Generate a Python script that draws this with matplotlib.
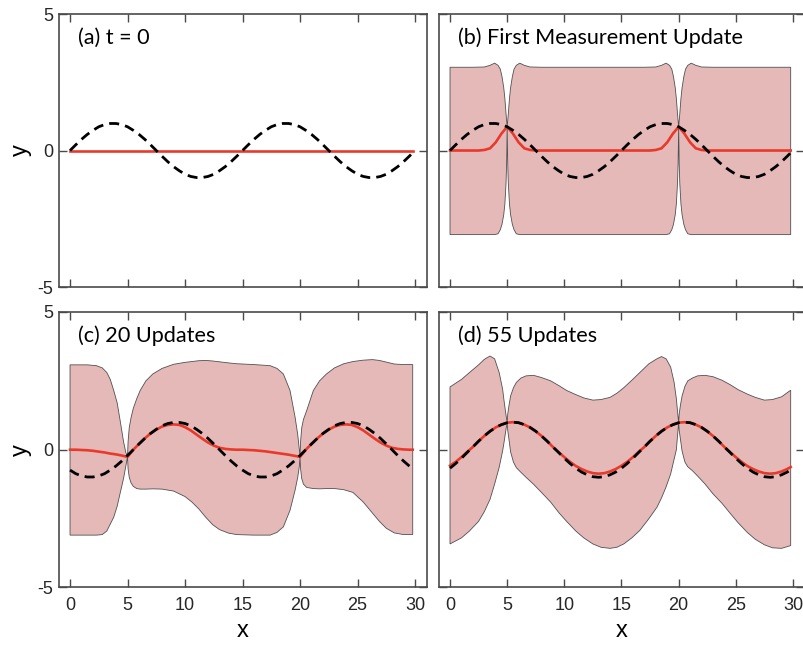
import numpy as np
import matplotlib.pyplot as plt

# sample positions shared by the truth and mean curves
X_GRID = np.append(np.arange(0, 29.6, 0.5), 29.8)

# true signal (dashed) for each panel
TRUTH_AB = [0.00, 0.21, 0.41, 0.59, 0.74, 0.87, 0.95, 0.99, 0.99, 0.95,
            0.87, 0.74, 0.59, 0.41, 0.21, 0.00, -0.21, -0.41, -0.59, -0.74,
            -0.87, -0.95, -0.99, -0.99, -0.95, -0.87, -0.74, -0.59, -0.41, -0.21,
            0.00, 0.21, 0.41, 0.59, 0.74, 0.87, 0.95, 0.99, 0.99, 0.95,
            0.87, 0.74, 0.59, 0.41, 0.21, 0.00, -0.21, -0.41, -0.59, -0.74,
            -0.87, -0.95, -0.99, -0.99, -0.95, -0.87, -0.74, -0.59, -0.41, -0.21,
            -0.08]
TRUTH_C = [-0.74, -0.87, -0.95, -0.99, -0.99, -0.95, -0.87, -0.74, -0.59, -0.41,
           -0.21, 0.00, 0.21, 0.41, 0.59, 0.74, 0.87, 0.95, 0.99, 0.99,
           0.95, 0.87, 0.74, 0.59, 0.41, 0.21, 0.00, -0.21, -0.41, -0.59,
           -0.74, -0.87, -0.95, -0.99, -0.99, -0.95, -0.87, -0.74, -0.59, -0.41,
           -0.21, 0.00, 0.21, 0.41, 0.59, 0.74, 0.87, 0.95, 0.99, 0.99,
           0.95, 0.87, 0.74, 0.59, 0.41, 0.21, 0.00, -0.21, -0.41, -0.59,
           -0.69]
TRUTH_D = [-0.67, -0.50, -0.31, -0.10, 0.10, 0.31, 0.50, 0.67, 0.81, 0.91,
           0.98, 1.00, 0.98, 0.91, 0.81, 0.67, 0.50, 0.31, 0.10, -0.10,
           -0.31, -0.50, -0.67, -0.81, -0.91, -0.98, -1.00, -0.98, -0.91, -0.81,
           -0.67, -0.50, -0.31, -0.10, 0.10, 0.31, 0.50, 0.67, 0.81, 0.91,
           0.98, 1.00, 0.98, 0.91, 0.81, 0.67, 0.50, 0.31, 0.10, -0.10,
           -0.31, -0.50, -0.67, -0.81, -0.91, -0.98, -1.00, -0.98, -0.91, -0.81,
           -0.73]

# filter mean (red)
MEAN_A_X = [0, 29.8]
MEAN_A = [0.0, 0.0]
MEAN_B_X = [0, 2.5, 3, 3.5, 4, 4.5, 5, 5.5, 6, 6.5, 7, 7.5,
            17.5, 18, 18.5, 19, 19.5, 20, 20.5, 21, 21.5, 22, 22.5, 29.8]
MEAN_B = [0.0, 0.0, 0.02, 0.08, 0.30, 0.62, 0.87, 0.62, 0.30, 0.08, 0.02, 0.0,
          0.0, 0.02, 0.08, 0.30, 0.62, 0.87, 0.62, 0.30, 0.08, 0.02, 0.0, 0.0]
MEAN_C = [0.00, 0.00, -0.01, -0.02, -0.04, -0.07, -0.10, -0.14, -0.17, -0.21,
          -0.26, 0.00, 0.21, 0.41, 0.59, 0.73, 0.84, 0.90, 0.92, 0.90,
          0.82, 0.70, 0.55, 0.40, 0.26, 0.15, 0.07, 0.03, 0.01, 0.00,
          0.00, -0.01, -0.02, -0.04, -0.06, -0.09, -0.12, -0.15, -0.18, -0.22,
          -0.26, 0.00, 0.21, 0.41, 0.59, 0.73, 0.84, 0.90, 0.92, 0.90,
          0.82, 0.70, 0.55, 0.40, 0.26, 0.15, 0.07, 0.03, 0.01, 0.00,
          0.00]
MEAN_D = [-0.58, -0.44, -0.27, -0.08, 0.10, 0.31, 0.50, 0.67, 0.81, 0.91,
          0.98, 1.00, 0.98, 0.91, 0.81, 0.67, 0.50, 0.31, 0.10, -0.09,
          -0.27, -0.44, -0.59, -0.70, -0.79, -0.85, -0.87, -0.85, -0.79, -0.70,
          -0.58, -0.44, -0.27, -0.08, 0.10, 0.31, 0.50, 0.67, 0.81, 0.91,
          0.98, 1.00, 0.98, 0.91, 0.81, 0.67, 0.50, 0.31, 0.10, -0.09,
          -0.27, -0.44, -0.59, -0.70, -0.79, -0.85, -0.87, -0.85, -0.79, -0.70,
          -0.63]

# uncertainty envelopes (upper / lower edges)
BAND_B_X = [0, 2, 3, 3.5, 3.9, 4.2, 4.4, 4.55, 4.7, 4.8, 4.9, 4.95, 5,
            5.05, 5.1, 5.2, 5.3, 5.45, 5.6, 5.8, 6.1, 6.5, 7, 8,
            17, 18, 18.5, 18.9, 19.2, 19.4, 19.55, 19.7, 19.8, 19.9, 19.95, 20,
            20.05, 20.1, 20.2, 20.3, 20.45, 20.6, 20.8, 21.1, 21.5, 22, 23, 29.8]
BAND_B_HI = [3.05, 3.05, 3.06, 3.12, 3.20, 3.12, 2.98, 2.70, 2.30, 1.90, 1.35, 1.10, 0.87,
             1.10, 1.35, 1.90, 2.30, 2.70, 2.98, 3.12, 3.20, 3.12, 3.06, 3.05,
             3.05, 3.06, 3.12, 3.20, 3.12, 2.98, 2.70, 2.30, 1.90, 1.35, 1.10, 0.87,
             1.10, 1.35, 1.90, 2.30, 2.70, 2.98, 3.12, 3.20, 3.12, 3.06, 3.05, 3.05]
BAND_B_LO = [-3.08, -3.08, -3.08, -3.08, -3.08, -3.05, -2.90, -2.70, -2.35, -1.95, -1.20, -0.50, 0.87,
             -0.50, -1.20, -1.95, -2.35, -2.70, -2.90, -3.05, -3.08, -3.08, -3.08, -3.08,
             -3.08, -3.08, -3.08, -3.08, -3.05, -2.90, -2.70, -2.35, -1.95, -1.20, -0.50, 0.87,
             -0.50, -1.20, -1.95, -2.35, -2.70, -2.90, -3.05, -3.08, -3.08, -3.08, -3.08, -3.08]

BAND_C_X = [0, 1.5, 2.3, 2.8, 3.2, 3.5, 3.8, 4.1, 4.4, 4.65, 4.85, 5.0,
            5.05, 5.15, 5.3, 5.5, 5.8, 6.1, 6.6, 7.2, 8.0, 9.0, 10.0, 10.6,
            11.2, 11.8, 12.4, 13.0, 13.8, 14.5, 16.0, 17.4, 18.0, 18.55, 19.13,
            19.57, 19.8, 19.94, 20.0, 20.05, 20.15, 20.3, 20.58, 21.16, 21.7,
            22.3, 23.0, 23.8, 24.6, 25.5, 26.3, 26.9, 27.5, 28.2, 29.0, 29.8]
BAND_C_HI = [3.08, 3.08, 3.05, 2.97, 2.80, 2.55, 2.15, 1.70, 0.95, 0.30, -0.10, -0.25,
             0.30, 0.80, 1.15, 1.50, 1.85, 2.15, 2.50, 2.75, 2.95, 3.10, 3.17, 3.20,
             3.23, 3.24, 3.22, 3.19, 3.15, 3.12, 3.09, 3.05, 2.95, 2.75, 2.15,
             1.18, 0.55, 0.00, -0.25, 0.30, 0.80, 1.10, 1.42, 2.15, 2.50,
             2.75, 2.97, 3.12, 3.20, 3.25, 3.27, 3.24, 3.18, 3.11, 3.09, 3.09]
BAND_C_LO = [-3.10, -3.10, -3.10, -3.08, -2.95, -2.70, -2.45, -2.05, -1.50, -1.05, -0.60, -0.25,
             -0.70, -1.00, -1.20, -1.33, -1.41, -1.43, -1.43, -1.42, -1.43, -1.50, -1.70, -1.90,
             -2.15, -2.45, -2.72, -2.90, -3.03, -3.08, -3.10, -3.10, -3.00, -2.80, -2.20,
             -1.47, -1.00, -0.60, -0.25, -0.70, -1.05, -1.25, -1.37, -1.41, -1.42,
             -1.41, -1.41, -1.45, -1.55, -1.90, -2.30, -2.60, -2.85, -3.02, -3.08, -3.08]

BAND_D_X = [0, 1.0, 1.7, 2.5, 3.0, 3.5, 3.9, 4.3, 4.6, 4.75, 4.9, 5.0,
            5.05, 5.15, 5.3, 5.55, 5.8, 6.2, 6.65, 7.3, 8.0, 8.8, 9.55, 10.2,
            11.0, 11.7, 12.5, 13.2, 14.0, 14.6, 15.2, 15.9, 16.6, 17.4, 18.1,
            18.5, 18.9, 19.3, 19.6, 19.8, 19.9, 20.0, 20.05, 20.15, 20.3, 20.55,
            20.8, 21.2, 21.65, 22.3, 23.0, 23.8, 24.55, 25.2, 26.0, 26.7, 27.5,
            28.2, 29.0, 29.8]
BAND_D_HI = [2.28, 2.55, 2.80, 3.08, 3.28, 3.40, 3.30, 2.80, 2.20, 1.70, 1.25, 0.98,
             1.30, 1.58, 1.95, 2.25, 2.44, 2.60, 2.68, 2.70, 2.62, 2.50, 2.32, 2.15,
             2.00, 1.88, 1.80, 1.82, 1.90, 2.05, 2.25, 2.52, 2.80, 3.12, 3.30,
             3.38, 3.30, 3.00, 2.45, 1.85, 1.40, 0.98, 1.30, 1.60, 1.95, 2.30,
             2.50, 2.60, 2.68, 2.70, 2.65, 2.52, 2.35, 2.18, 2.02, 1.90, 1.80,
             1.82, 1.92, 2.16]
BAND_D_LO = [-3.42, -3.20, -2.95, -2.60, -2.25, -1.80, -1.25, -0.64, -0.05, 0.33, 0.75, 0.98,
             0.70, 0.40, -0.08, -0.45, -0.65, -0.82, -1.00, -1.25, -1.55, -1.90, -2.30, -2.60,
             -2.95, -3.20, -3.42, -3.54, -3.58, -3.54, -3.42, -3.20, -2.93, -2.50, -2.09,
             -1.75, -1.35, -0.88, -0.35, 0.00, 0.50, 0.98, 0.70, 0.40, -0.05, -0.45,
             -0.62, -0.76, -0.95, -1.24, -1.60, -1.95, -2.33, -2.65, -3.00, -3.25, -3.45,
             -3.56, -3.58, -3.48]

PANEL_TITLES = ["(a) t = 0", "(b) First Measurement Update",
                "(c) 20 Updates", "(d) 55 Updates"]
XTICKS = [0, 5, 10, 15, 20, 25, 30]
YTICKS = [-5, 0, 5]

FRAME = "#4a4a4a"
BAND_FACE = "#e6b9b9"
BAND_EDGE = "#505050"
RED = "#e8392b"

plt.rcParams["font.family"] = ["Liberation Sans", "DejaVu Sans"]
plt.rcParams["axes.unicode_minus"] = False

fig = plt.figure(figsize=(8.04, 6.46), dpi=100)
ax_a = fig.add_axes([0.0728, 0.5557, 0.4577, 0.4226])
ax_b = fig.add_axes([0.5455, 0.5557, 0.4550, 0.4226])
ax_c = fig.add_axes([0.0728, 0.0906, 0.4577, 0.4265])
ax_d = fig.add_axes([0.5455, 0.0906, 0.4550, 0.4265])
axes = [ax_a, ax_b, ax_c, ax_d]


def draw_band(ax, x, hi, lo):
    x = np.asarray(x)
    px = np.concatenate([x, x[::-1]])
    py = np.concatenate([np.asarray(hi), np.asarray(lo)[::-1]])
    ax.fill(px, py, facecolor=BAND_FACE, edgecolor=BAND_EDGE, linewidth=0.6, zorder=1)


def draw_truth(ax, y):
    ax.plot(X_GRID, y, color="black", lw=2.0, dashes=(3.6, 2.2), zorder=3)


draw_truth(ax_a, TRUTH_AB)
ax_a.plot(MEAN_A_X, MEAN_A, color=RED, lw=1.9, zorder=2)

draw_band(ax_b, BAND_B_X, BAND_B_HI, BAND_B_LO)
ax_b.plot(MEAN_B_X, MEAN_B, color=RED, lw=1.9, zorder=2)
draw_truth(ax_b, TRUTH_AB)

draw_band(ax_c, BAND_C_X, BAND_C_HI, BAND_C_LO)
ax_c.plot(X_GRID, MEAN_C, color=RED, lw=1.9, zorder=2)
draw_truth(ax_c, TRUTH_C)

draw_band(ax_d, BAND_D_X, BAND_D_HI, BAND_D_LO)
ax_d.plot(X_GRID, MEAN_D, color=RED, lw=1.9, zorder=2)
draw_truth(ax_d, TRUTH_D)

for i, ax in enumerate(axes):
    ax.set_xlim(-1, 31)
    ax.set_ylim(-5, 5)
    ax.set_xticks(XTICKS)
    ax.set_yticks(YTICKS)
    for sp in ax.spines.values():
        sp.set_color(FRAME)
        sp.set_linewidth(1.2)
    ax.tick_params(direction="in", length=5.5, width=1.0, top=True, right=True,
                   color=FRAME, labelcolor="#262626", labelsize=13)
    ax.tick_params(axis="x", pad=7)
    ax.tick_params(axis="y", pad=4)
    if i < 2:
        ax.tick_params(labelbottom=False)
    else:
        ax.set_xlabel("x", fontsize=17, labelpad=4)
    if i % 2 == 1:
        ax.tick_params(labelleft=False)
    else:
        ax.set_ylabel("y", fontsize=17, labelpad=4)
    ax.text(0.052, 0.912, PANEL_TITLES[i], transform=ax.transAxes,
            fontsize=15.6, family=["Lato", "DejaVu Sans"], va="center", ha="left")

fig.savefig("out.png", dpi=100)
